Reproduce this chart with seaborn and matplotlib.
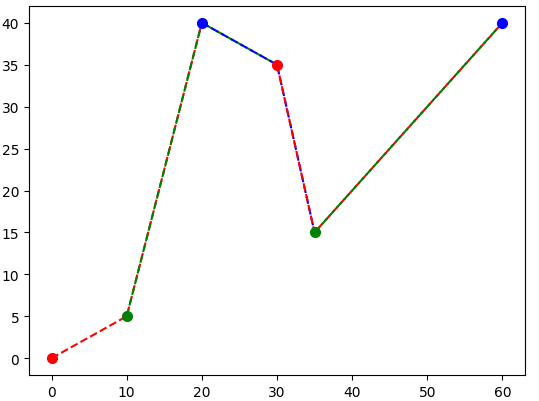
import numpy as np
import pandas as pd
import matplotlib
matplotlib.use("Agg")
import matplotlib.pyplot as plt
import seaborn as sns

# points
x_vals = [0, 10, 20, 30, 35, 60]
y_vals = [0, 5, 40, 35, 15, 40]
point_colors = ['r', 'g', 'b', 'r', 'g', 'b']


def main():
    df = pd.DataFrame({'x': x_vals, 'y': y_vals, 'c': point_colors})

    fig = plt.figure(figsize=(5.39, 4.02), dpi=100)
    ax = plt.gca()

    # each window of three points gets a dashed line in the colour of its first point
    for i in range(len(df) - 1):
        part = df.iloc[i:i + 3]
        sns.lineplot(x='x', y='y', data=part, sort=False, estimator=None,
                     color=part['c'].iloc[0], linestyle='--', lw=1.5, ax=ax)

    # coloured markers on top
    for i in range(len(df)):
        ax.plot(df['x'].iloc[i], df['y'].iloc[i], 'o', color=df['c'].iloc[i],
                markersize=7, zorder=5)

    ax.set_xlabel('')
    ax.set_ylabel('')
    ax.set_xticks([0, 10, 20, 30, 40, 50, 60])
    ax.set_yticks([0, 5, 10, 15, 20, 25, 30, 35, 40])

    fig.subplots_adjust(left=29 / 539, right=525 / 539, top=1 - 7 / 402, bottom=1 - 376 / 402)
    fig.savefig('out.png', dpi=100)


if __name__ == "__main__":
    main()
